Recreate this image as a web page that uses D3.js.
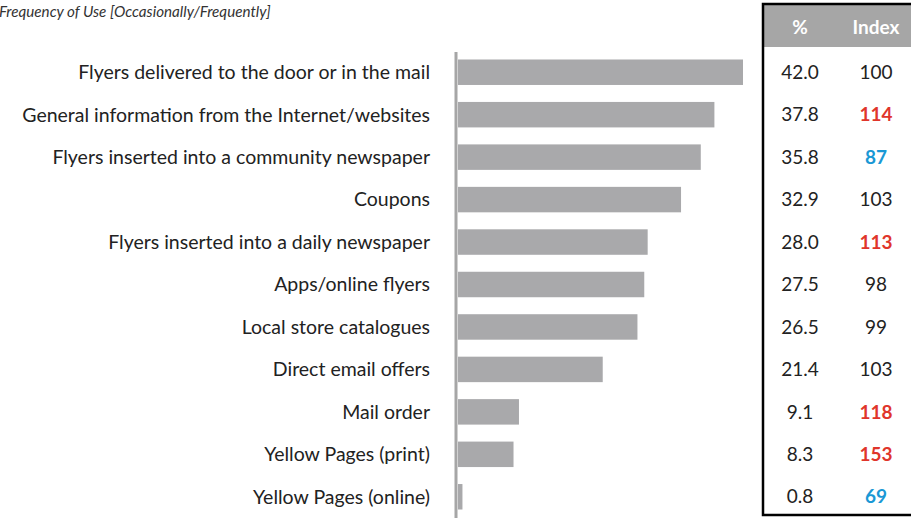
<!DOCTYPE html>
<html>
<head>
<meta charset="utf-8">
<script src="https://cdn.jsdelivr.net/npm/d3@7"></script>
<style>
  html, body { margin: 0; padding: 0; background: #fff; }
  svg { display: block; }
</style>
</head>
<body>
<svg id="chart" width="911" height="518"></svg>
<script>
const categories = [
  "Flyers delivered to the door or in the mail",
  "General information from the Internet/websites",
  "Flyers inserted into a community newspaper",
  "Coupons",
  "Flyers inserted into a daily newspaper",
  "Apps/online flyers",
  "Local store catalogues",
  "Direct email offers",
  "Mail order",
  "Yellow Pages (print)",
  "Yellow Pages (online)"
];
const percents = [42.0, 37.8, 35.8, 32.9, 28.0, 27.5, 26.5, 21.4, 9.1, 8.3, 0.8];
const indexes = [100, 114, 87, 103, 113, 98, 99, 103, 118, 153, 69];
const tableHeaders = ["%", "Index"];
const title = "Frequency of Use [Occasionally/Frequently]";

const svg = d3.select("#chart");
const font = "Lato, 'Open Sans', sans-serif";

const x = d3.scaleLinear().domain([0, 42]).range([457, 743]);
const y = d3.scaleBand().domain(categories).range([51, 518])
  .paddingInner(0.4).paddingOuter(0.2);

// soft edge on bars and axis
const defs = svg.append("defs");
defs.append("filter").attr("id", "soft")
  .attr("filterUnits", "userSpaceOnUse")
  .attr("x", 0).attr("y", 0).attr("width", 911).attr("height", 518)
  .append("feGaussianBlur").attr("stdDeviation", 0.6);

// title
svg.append("text")
  .attr("x", -1).attr("y", 17)
  .attr("font-family", font).attr("font-style", "italic")
  .attr("font-size", 15.2).attr("fill", "#333")
  .text(title);

// bars
svg.append("g").attr("filter", "url(#soft)")
  .selectAll("rect").data(categories).join("rect")
  .attr("x", x(0) + 1)
  .attr("y", d => y(d))
  .attr("width", (d, i) => Math.max(0, x(percents[i]) - x(0) - 1))
  .attr("height", y.bandwidth())
  .attr("fill", "#a9a9ab");

// category axis line
svg.append("rect")
  .attr("x", 454.5).attr("y", 52).attr("width", 3).attr("height", 466)
  .attr("fill", "#a6a6a6")
  .attr("filter", "url(#soft)");

// category labels
svg.append("g").selectAll("text").data(categories).join("text")
  .attr("x", 430)
  .attr("y", d => y(d) + y.bandwidth() / 2)
  .attr("dy", "0.35em")
  .attr("text-anchor", "end")
  .attr("font-family", font).attr("font-size", 19.5).attr("fill", "#222")
  .text(d => d);

// side table
const colX = [800, 876];
svg.append("rect")
  .attr("x", 763).attr("y", 5).attr("width", 150).attr("height", 42)
  .attr("fill", "#a6a6a6");
svg.append("g").selectAll("text").data(tableHeaders).join("text")
  .attr("x", (d, i) => colX[i]).attr("y", 27).attr("dy", "0.35em")
  .attr("text-anchor", "middle")
  .attr("font-family", font).attr("font-weight", "bold")
  .attr("font-size", 19).attr("fill", "#fff")
  .text(d => d);

// table border (left, top, bottom)
svg.append("path")
  .attr("d", "M913,4 H763 V515 H913")
  .attr("fill", "none").attr("stroke", "#000").attr("stroke-width", 2.5);

const idxColor = v => v >= 110 ? "#e0352b" : (v <= 90 ? "#1a98d5" : "#222");
const rows = svg.append("g").selectAll("g").data(categories).join("g")
  .attr("transform", d => `translate(0,${y(d) + y.bandwidth() / 2})`);
rows.append("text")
  .attr("x", colX[0]).attr("dy", "0.35em").attr("text-anchor", "middle")
  .attr("font-family", font).attr("font-size", 19).attr("fill", "#222")
  .text((d, i) => percents[i].toFixed(1));
rows.append("text")
  .attr("x", colX[1]).attr("dy", "0.35em").attr("text-anchor", "middle")
  .attr("font-family", font).attr("font-size", 19)
  .attr("font-weight", (d, i) => idxColor(indexes[i]) === "#222" ? "normal" : "bold")
  .attr("fill", (d, i) => idxColor(indexes[i]))
  .text((d, i) => indexes[i]);
</script>
</body>
</html>
